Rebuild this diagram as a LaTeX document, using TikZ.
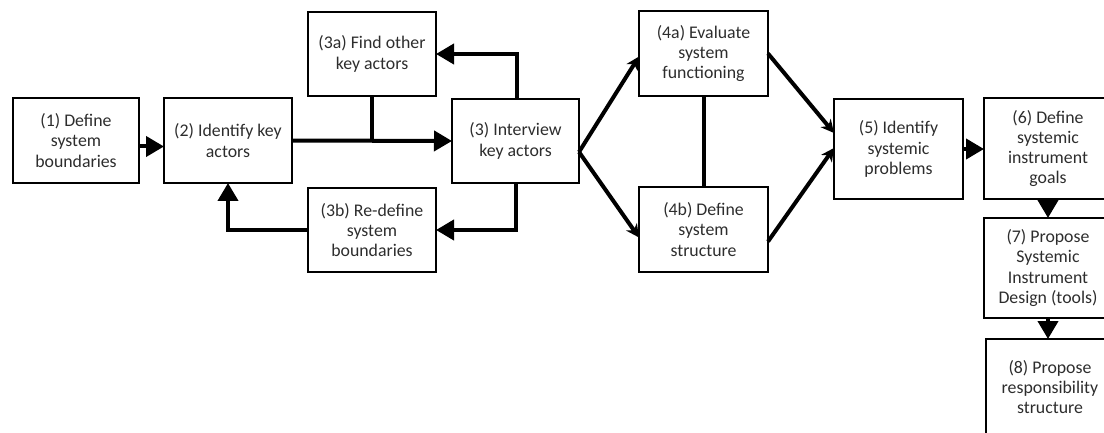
\documentclass[tikz,border=0pt]{standalone}
\usepackage{fontspec}
\setmainfont{Carlito}
\usetikzlibrary{arrows.meta,calc}
\definecolor{txt}{RGB}{45,45,45}
\begin{document}
\begin{tikzpicture}[x=1pt,y=-1pt,
  box/.style={draw=black,line width=2.6pt,inner sep=0pt,outer sep=0pt,
    align=center,text=txt,font=\fontsize{17.8}{20.3}\selectfont},
  conn/.style={line width=4pt,draw=black},
  tri/.style={conn,-{Triangle[length=18pt,width=20pt]}},
  stl/.style={conn,-{Stealth[length=13pt,width=13pt,inset=4pt]}}]
\useasboundingbox (0,0) rectangle (1104,433);
\clip (0,0) rectangle (1104,433);
\node[box,minimum width=126pt,minimum height=85pt] (n1) at (76,140.5) {(1) Define\\system\\boundaries};
\node[box,minimum width=128pt,minimum height=85pt] (n2) at (228,140.5) {(2) Identify key\\actors};
\node[box,minimum width=128pt,minimum height=84pt] (n3a) at (372,54) {(3a) Find other\\key actors};
\node[box,minimum width=127pt,minimum height=84pt] (n3) at (515.5,141) {(3) Interview\\key actors};
\node[box,minimum width=128pt,minimum height=84pt] (n3b) at (372,230) {(3b) Re-define\\system\\boundaries};
\node[box,minimum width=129pt,minimum height=85pt] (n4a) at (703.5,53.5) {(4a) Evaluate\\system\\functioning};
\node[box,minimum width=129pt,minimum height=85pt] (n4b) at (703.5,229.5) {(4b) Define\\system\\structure};
\node[box,minimum width=129pt,minimum height=100pt] (n5) at (898.5,149) {(5) Identify\\systemic\\problems};
\node[box,minimum width=128pt,minimum height=101pt] (n6) at (1048,148.5) {(6) Define\\systemic\\instrument\\goals};
\node[box,minimum width=128pt,minimum height=100pt] (n7) at (1048,268) {(7) Propose\\Systemic\\Instrument\\Design (tools)};
\node[box,minimum width=128pt,minimum height=96pt] (n8) at (1050,387) {(8) Propose\\responsibility\\structure};
% connectors
\draw[tri] ([yshift=-6pt]n1.east) -- ([yshift=-6pt]n2.west);
\draw[tri] (n2.east) -- (n3.west);
\draw[conn] (n3a.south) -- (n3a.south |- n2.east);
\draw[tri] ([xshift=1.5pt]n3.north) |- (n3a.east);
\draw[tri] (n3.south) |- (n3b.east);
\draw[tri] (n3b.west) -| (n2.south);
\coordinate (fan) at ([yshift=-11pt]n3.east);
\draw[stl] (fan) -- ([yshift=-3pt]n4a.west);
\draw[stl] (fan) -- ([yshift=-8pt]n4b.west);
\draw[conn] (n4a.south) -- (n4b.north);
\draw[stl] (n4a.east) -- ([yshift=16pt]n5.west);
\draw[stl] ([yshift=-12pt]n4b.east) -- ([yshift=1pt]n5.west);
\draw[tri] (n5.east) -- ([yshift=-0.5pt]n6.west);
\draw[tri] (n6.south) -- (n7.north);
\draw[tri] (n7.south) -- (n7.south |- n8.north);
\end{tikzpicture}
\end{document}
